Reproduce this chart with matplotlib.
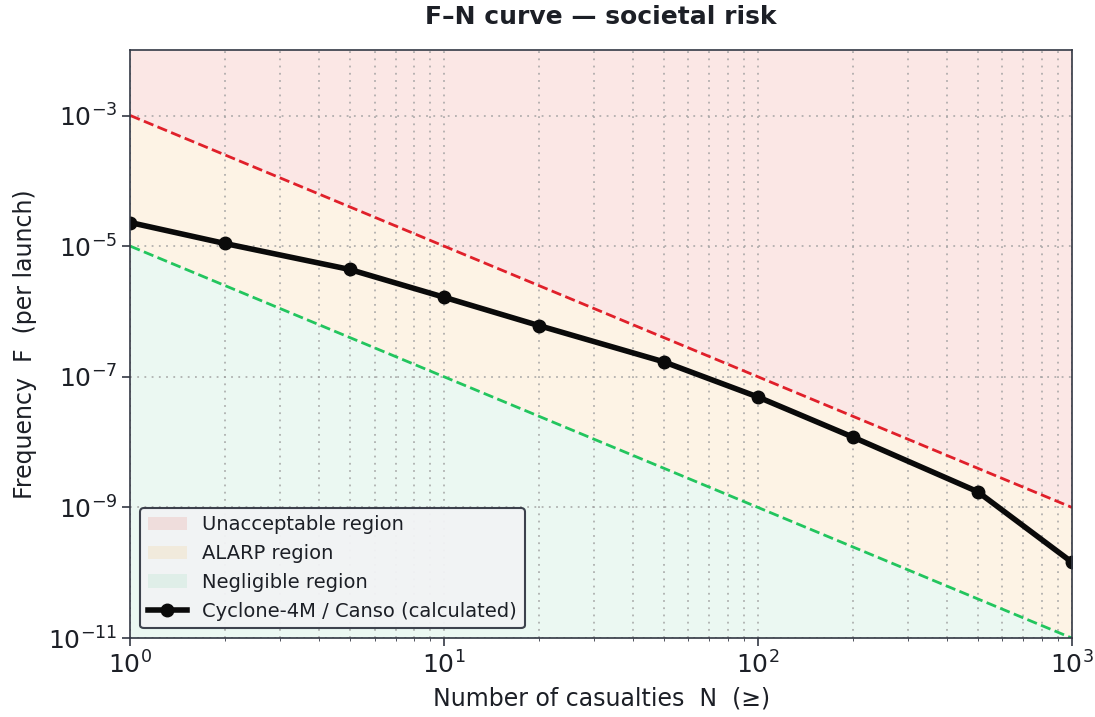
import numpy as np
import matplotlib
matplotlib.use('Agg')
import matplotlib.pyplot as plt
from matplotlib.ticker import NullLocator

# Datos
N = [1, 2, 5, 10, 20, 50, 100, 200, 500, 1000]
F = [2.3e-5, 1.1e-5, 4.4e-6, 1.65e-6, 6.1e-7, 1.7e-7, 4.9e-8, 1.2e-8, 1.75e-9, 1.45e-10]

# Criterios: F = C / N^2
C_unacceptable = 1e-3
C_negligible = 1e-5
x_lim = [1, 1000]
y_lim = [1e-11, 1e-2]

texto = '#1c1f26'
plt.rcParams['text.color'] = texto
plt.rcParams['axes.labelcolor'] = texto
plt.rcParams['xtick.color'] = '#333844'
plt.rcParams['ytick.color'] = '#333844'
plt.rcParams['xtick.labelcolor'] = texto
plt.rcParams['ytick.labelcolor'] = texto

fig, ax = plt.subplots(figsize=(10.95, 7.17), dpi=100)
fig.subplots_adjust(left=0.119, right=0.979, top=0.930, bottom=0.110)

xx = np.logspace(0, 3, 200)
upper = C_unacceptable / xx**2
lower = C_negligible / xx**2

ax.fill_between(xx, upper, y_lim[1], color='#e74c3c', alpha=0.13, lw=0, label='Unacceptable region')
ax.fill_between(xx, lower, upper, color='#f5c77e', alpha=0.2, lw=0, label='ALARP region')
ax.fill_between(xx, y_lim[0], lower, color='#7dd3a8', alpha=0.15, lw=0, label='Negligible region')

ax.plot(xx, upper, color='#e0202a', linestyle='--', linewidth=2)
ax.plot(xx, lower, color='#22c55e', linestyle='--', linewidth=2)

ax.plot(N, F, color='#0a0a0a', marker='o', markersize=9, linewidth=4,
        label='Cyclone-4M / Canso (calculated)')

ax.set_xscale('log')
ax.set_yscale('log')
ax.set_xlim(x_lim)
ax.set_ylim(y_lim)
ax.set_yticks([1e-11, 1e-9, 1e-7, 1e-5, 1e-3])
ax.yaxis.set_minor_locator(NullLocator())

ax.grid(True, which='both', linestyle=(0, (1, 3)), color='#a0a0a0', alpha=0.8, linewidth=1.3)
ax.tick_params(labelsize=18)
ax.tick_params(which='major', length=6, width=1.2)
for s in ax.spines.values():
    s.set_color('#333844')
    s.set_linewidth(1.2)

ax.set_xlabel('Number of casualties  N  (≥)', fontsize=17, labelpad=6)
ax.set_ylabel('Frequency  F  (per launch)', fontsize=17, labelpad=8)
ax.set_title('F–N curve — societal risk', fontsize=18, fontweight='bold', pad=19)

leg = ax.legend(loc='lower left', fontsize=14, framealpha=0.95, fancybox=True,
                borderaxespad=0.5)
leg.get_frame().set_facecolor('#f2f3f5')
leg.get_frame().set_edgecolor('#333844')
leg.get_frame().set_linewidth(1.5)

fig.savefig('out.png', dpi=100)
